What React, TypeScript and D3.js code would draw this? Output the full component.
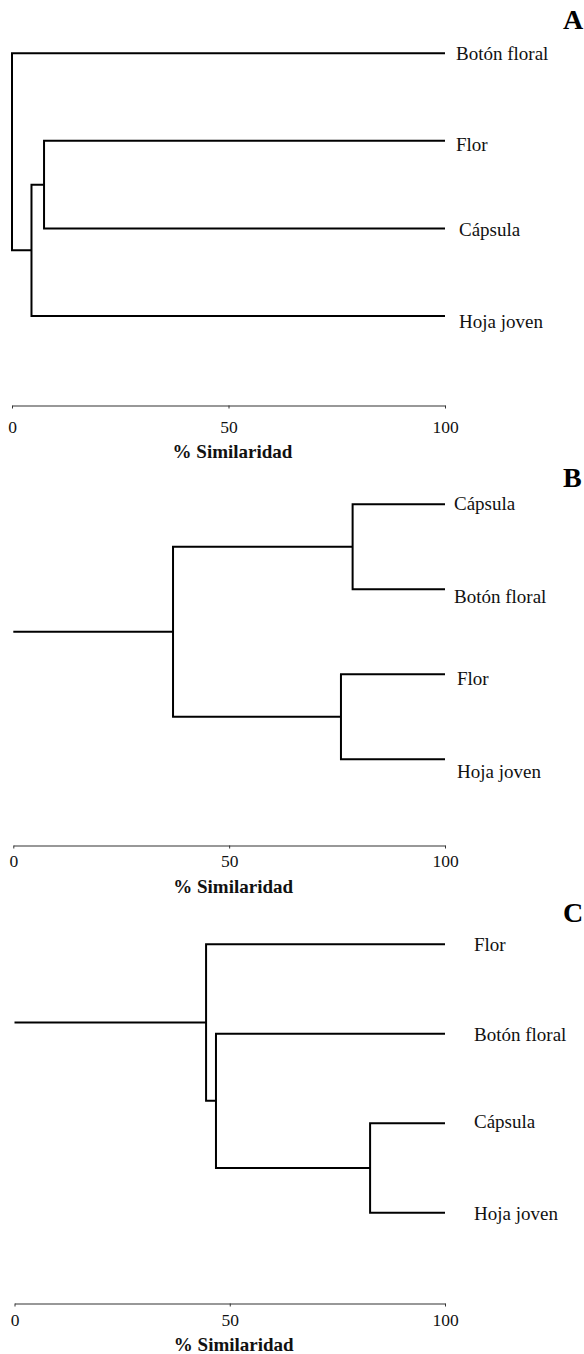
import React, { useEffect, useRef } from "react";
import * as d3 from "d3";

// ---- data ----
const ticks = [0, 50, 100];
const axisTitle = "% Similaridad";

const leavesA = ["Botón floral", "Flor", "Cápsula", "Hoja joven"];
// [clusterI, clusterJ, similarity]; leaves are 0..3, new clusters 4, 5, 6
const mergesA: [number, number, number][] = [
  [1, 2, 7.4],
  [4, 3, 4.5],
  [0, 5, 0],
];

const leavesB = ["Cápsula", "Botón floral", "Flor", "Hoja joven"];
const mergesB: [number, number, number][] = [
  [0, 1, 78.6],
  [2, 3, 75.9],
  [4, 5, 37.0],
];

const leavesC = ["Flor", "Botón floral", "Cápsula", "Hoja joven"];
const mergesC: [number, number, number][] = [
  [2, 3, 82.6],
  [1, 4, 46.8],
  [0, 5, 44.5],
];

const panelLetters = ["A", "B", "C"];

// ---- layout (positions / styles only) ----
const layout = [
  {
    x0: 12, x1: 445, yTop: 53.3, yBottom: 316, axisY: 405.5, tickPad: 12.5, titleY: 458,
    letterY: 29, labelX: [456, 456, 459, 459], labelDy: [0, 4, 1, 5.5],
  },
  {
    x0: 13.3, x1: 445, yTop: 504.3, yBottom: 759.3, axisY: 845.5, tickPad: 6, titleY: 893,
    letterY: 487, labelX: [454, 454, 457, 457], labelDy: [-1, 7, 4, 12],
  },
  {
    x0: 14.5, x1: 445, yTop: 944.3, yBottom: 1212.7, axisY: 1303.5, tickPad: 7.5, titleY: 1351,
    letterY: 921.5, labelX: [474, 474, 474, 474], labelDy: [0, 1.3, -1.7, 1],
  },
];

const panels = [
  { leaves: leavesA, merges: mergesA },
  { leaves: leavesB, merges: mergesB },
  { leaves: leavesC, merges: mergesC },
];

const FONT = "'Liberation Serif', 'Times New Roman', serif";

type TNode = { name: string; sim: number; children?: TNode[] };

function buildTree(leaves: string[], merges: [number, number, number][]): TNode {
  const clusters: TNode[] = leaves.map((name) => ({ name, sim: 100 }));
  merges.forEach(([i, j, s], k) => {
    clusters.push({ name: "n" + k, sim: s, children: [clusters[i], clusters[j]] });
  });
  return clusters[clusters.length - 1];
}

export default function App() {
  const ref = useRef<SVGSVGElement | null>(null);

  useEffect(() => {
    const svg = d3.select(ref.current);
    svg.selectAll("*").remove();

    panels.forEach((p, pi) => {
      const L = layout[pi];
      const g = svg.append("g");
      const x = d3.scaleLinear().domain([0, 100]).range([L.x0, L.x1]);
      const y = d3.scalePoint<string>().domain(p.leaves).range([L.yTop, L.yBottom]);

      const root = d3.hierarchy<TNode>(buildTree(p.leaves, p.merges));
      const pos = new Map<any, { x: number; y: number }>();
      root.eachAfter((n: any) => {
        if (!n.children) {
          pos.set(n, { x: x(100), y: y(n.data.name) as number });
        } else {
          const ys = n.children.map((c: any) => pos.get(c)!.y);
          pos.set(n, { x: x(n.data.sim), y: d3.mean(ys) as number });
        }
      });

      // elbows
      root.each((n: any) => {
        if (!n.children) return;
        const np = pos.get(n)!;
        const [a, b] = n.children.map((c: any) => pos.get(c)!);
        const path = d3.path();
        path.moveTo(a.x, a.y);
        path.lineTo(np.x, a.y);
        path.lineTo(np.x, b.y);
        path.lineTo(b.x, b.y);
        g.append("path")
          .attr("d", path.toString())
          .attr("fill", "none")
          .attr("stroke", "#000")
          .attr("stroke-width", 2)
          .attr("stroke-linejoin", "miter");
      });
      // root stem
      const rp = pos.get(root)!;
      if (rp.x - x(0) > 0.5) {
        g.append("line")
          .attr("x1", x(0)).attr("x2", rp.x)
          .attr("y1", rp.y).attr("y2", rp.y)
          .attr("stroke", "#000").attr("stroke-width", 2);
      }

      // leaf labels
      p.leaves.forEach((name, li) => {
        g.append("text")
          .attr("x", L.labelX[li])
          .attr("y", (y(name) as number) + L.labelDy[li] + 0.331 * 19)
          .attr("font-family", FONT)
          .attr("font-size", 19)
          .attr("fill", "#111")
          .text(name);
      });

      // axis
      const axis = d3.axisBottom(x).tickValues(ticks).tickSize(3).tickSizeOuter(0).tickPadding(L.tickPad)
        .tickFormat(d3.format("d") as any);
      const ag = g.append("g").attr("transform", `translate(0,${L.axisY})`).call(axis);
      ag.select(".domain").attr("stroke", "#333").attr("stroke-width", 1.2);
      ag.selectAll(".tick line").attr("stroke", "#333").attr("stroke-width", 1);
      ag.selectAll(".tick text")
        .attr("font-family", FONT)
        .attr("font-size", 17.5)
        .attr("fill", "#111");

      // axis title
      g.append("text")
        .attr("x", x(50) + 4)
        .attr("y", L.titleY)
        .attr("text-anchor", "middle")
        .attr("font-family", FONT)
        .attr("font-weight", "bold")
        .attr("font-size", 19)
        .attr("fill", "#111")
        .text(axisTitle);

      // panel letter
      g.append("text")
        .attr("x", 563)
        .attr("y", L.letterY)
        .attr("font-family", FONT)
        .attr("font-weight", "bold")
        .attr("font-size", 28)
        .attr("fill", "#000")
        .text(panelLetters[pi]);
    });
  }, []);

  return (
    <svg
      ref={ref}
      width={584}
      height={1354}
      style={{ position: "absolute", left: 0, top: 0, background: "#fff" }}
    />
  );
}
